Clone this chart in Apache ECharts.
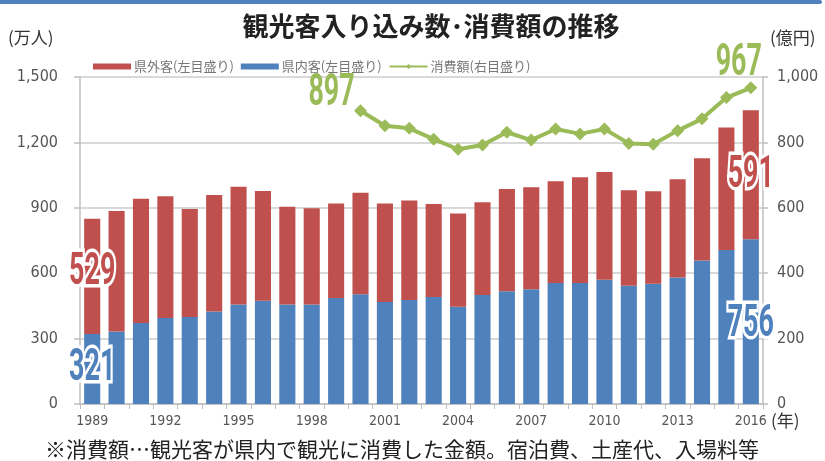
<!DOCTYPE html>
<html>
<head>
<meta charset="utf-8">
<script src="https://cdn.jsdelivr.net/npm/echarts@6/dist/echarts.min.js"></script>
<style>
html,body{margin:0;padding:0;background:#fff;}
#main{width:825px;height:461px;}
</style>
</head>
<body>
<div id="main"></div>
<script>
// 年
var years = ['1989','1990','1991','1992','1993','1994','1995','1996','1997','1998',
  '1999','2000','2001','2002','2003','2004','2005','2006','2007','2008',
  '2009','2010','2011','2012','2013','2014','2015','2016'];
// 県内客(万人)
var inside = [321,333,372,394,399,424,456,474,456,456,486,503,468,477,491,446,500,517,526,555,555,570,543,552,580,658,706,756];
// 県外客(万人)
var outside = [529,552,570,559,495,535,541,503,449,442,434,466,452,456,426,428,425,469,468,467,485,494,437,424,451,469,562,591];
// 消費額(億円)
var spend = [null,null,null,null,null,null,null,null,null,null,null,
  897,851,843,810,779,792,831,807,841,826,841,797,794,836,872,937,967];

var leftTicks = [0,300,600,900,1200,1500];
var rightTicks = [0,200,400,600,800,1000];

var RED = '#C0504D', BLUE = '#4F81BD', GREEN = '#9BBB59';
var last = years.length - 1;
var numFont = '"Liberation Sans Narrow","DejaVu Sans Condensed","Liberation Sans",sans-serif';
var jpFont = '"Noto Sans CJK JP",sans-serif';

function comma(v){return String(v).replace(/\B(?=(\d{3})+(?!\d))/g, ',');}

var chart = echarts.init(document.getElementById('main'));
var option = {
  animation:false,
  title:{text:'観光客入り込み数･消費額の推移', left:426, textAlign:'center', top:8,
    textStyle:{fontSize:26, fontWeight:'bold', color:'#222', fontFamily:jpFont}},
  legend:{left:88, top:55, itemWidth:38, itemHeight:6, itemGap:7,
    textStyle:{fontSize:13, color:'#777', fontFamily:jpFont, padding:[0,0,0,-2]},
    data:[{name:'県外客(左目盛り)', icon:'rect'},{name:'県内客(左目盛り)', icon:'rect'},{name:'消費額(右目盛り)'}]},
  grid:{left:80, right:62, top:77, bottom:57},
  xAxis:{type:'category', data:years,
    axisLine:{lineStyle:{color:'#bfbfbf', width:1.5}},
    axisTick:{show:true, interval:0, length:5, lineStyle:{color:'#bfbfbf'}},
    axisLabel:{interval:2, margin:10, fontSize:14, color:'#555', fontFamily:numFont}},
  yAxis:[
    {type:'value', min:leftTicks[0], max:leftTicks[leftTicks.length-1], interval:300,
     axisLine:{show:true, lineStyle:{color:'#bfbfbf', width:1.5}},
     axisTick:{show:true, length:6, lineStyle:{color:'#bfbfbf', width:1.5}},
     splitLine:{lineStyle:{color:'#d9d9d9', width:2}},
     axisLabel:{fontSize:16, color:'#555', margin:22, fontFamily:numFont, formatter:comma}},
    {type:'value', min:rightTicks[0], max:rightTicks[rightTicks.length-1], interval:200,
     axisLine:{show:true, lineStyle:{color:'#bfbfbf', width:1.5}},
     axisTick:{show:true, length:5, lineStyle:{color:'#bfbfbf', width:1.5}},
     splitLine:{show:false},
     axisLabel:{fontSize:16, color:'#555', margin:14, fontFamily:numFont, formatter:comma}}
  ],
  series:[
    {name:'県内客(左目盛り)', type:'bar', stack:'total', barWidth:'66%',
     itemStyle:{color:BLUE}, data:inside},
    {name:'県外客(左目盛り)', type:'bar', stack:'total',
     itemStyle:{color:RED}, data:outside},
    {name:'消費額(右目盛り)', type:'line', yAxisIndex:1,
     symbol:'diamond', symbolSize:13, showSymbol:true,
     lineStyle:{color:GREEN, width:4}, itemStyle:{color:GREEN},
     data:spend}
  ]
};
chart.setOption(option);

// 端点の大きな数値ラベル(縦長の書体に合わせて横方向を縮める)
var bigFont = 'bold 44px Roboto, sans-serif';
function bigText(val, color, pt, dx, dy, outline){
  var base = {type:'text', x:pt[0]+dx, y:pt[1]+dy, scaleX:0.61};
  var out = [];
  if(outline){
    out.push(Object.assign({}, base, {z:100, style:{text:String(val), fill:'#fff', stroke:'#fff',
      lineWidth:7, lineJoin:'round', font:bigFont, align:'center', verticalAlign:'middle'}}));
  }
  out.push(Object.assign({}, base, {z:101, style:{text:String(val), fill:color,
    font:bigFont, align:'center', verticalAlign:'middle'}}));
  return out;
}
function leftPx(i, v){return chart.convertToPixel({xAxisIndex:0, yAxisIndex:0}, [years[i], v]);}
function rightPx(i, v){return chart.convertToPixel({xAxisIndex:0, yAxisIndex:1}, [years[i], v]);}
var firstSpend = spend.findIndex(function(v){return v !== null;});

var graphics = [
  {type:'rect', shape:{x:0, y:0, width:822, height:4, r:[0,3,3,0]}, style:{fill:'#4F81BD'}},
  {type:'text', left:8, top:29, style:{text:'(万人)', fontSize:17, fill:'#333', fontFamily:jpFont}},
  {type:'text', left:770, top:29, style:{text:'(億円)', fontSize:17, fill:'#333', fontFamily:jpFont}},
  {type:'text', left:771, top:412, style:{text:'(年)', fontSize:17, fill:'#333', fontFamily:jpFont}},
  {type:'text', left:45, top:439, style:{text:'※消費額…観光客が県内で観光に消費した金額。宿泊費、土産代、入場料等', fontSize:21, fill:'#222', fontFamily:jpFont}}
].concat(
  bigText(inside[0], BLUE, leftPx(0, inside[0]/2), 0, 0, true),
  bigText(outside[0], RED, leftPx(0, inside[0]+outside[0]/2), 0, -3, true),
  bigText(inside[last], BLUE, leftPx(last, inside[last]/2), 0, 3, true),
  bigText(outside[last], RED, leftPx(last, inside[last]+outside[last]/2), 0, 1, true),
  bigText(spend[firstSpend], GREEN, rightPx(firstSpend, spend[firstSpend]), -29, -17, false),
  bigText(spend[last], GREEN, rightPx(last, spend[last]), -12, -24, false)
);
chart.setOption({graphic:graphics});
</script>
</body>
</html>
